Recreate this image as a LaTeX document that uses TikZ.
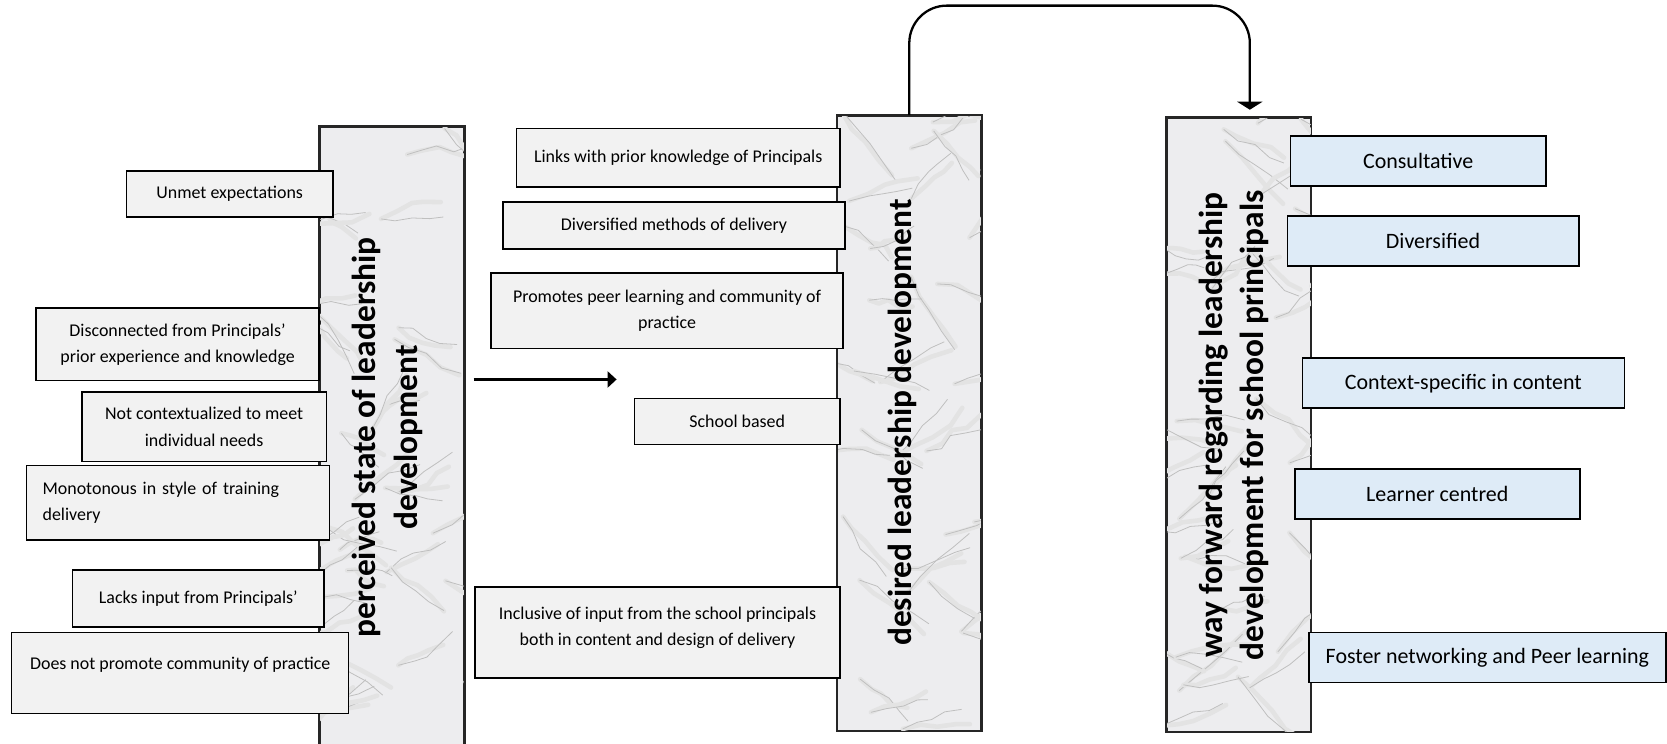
\documentclass[tikz,border=0pt]{standalone}
\usepackage{fontspec}
\setmainfont{Carlito}
\usetikzlibrary{arrows.meta}

\definecolor{boxgrey}{HTML}{F2F2F2}
\definecolor{boxblue}{HTML}{DEEBF7}
\definecolor{marble}{HTML}{EDEDEF}

\tikzset{
  pillar/.style={draw=black!85, line width=1pt, fill=marble, inner sep=0pt, anchor=south west},
  pillartext/.style={rotate=90, font=\bfseries\fontsize{19}{23.5}\selectfont, align=center},
  greybox/.style={draw, line width=0.9pt, fill=boxgrey, align=center, inner sep=2pt,
    font=\fontsize{10.2}{15}\selectfont},
  bluebox/.style={greybox, fill=boxblue, minimum height=1cm, font=\fontsize{12.5}{15}\selectfont},
  softvein/.style={gray!22, line width=2.6pt, line join=round, line cap=round},
  vein/.style={gray!50, line width=0.45pt, line join=round},
  flow/.style={line width=1.3pt, -{Triangle[length=0.18cm,width=0.32cm]}},
}

% marble look of the columns
\newcommand{\veins}[1]{%
  \begin{scope}
    \clip (#1.south west) rectangle (#1.north east);
    \foreach \k in {1,...,34}{
      \pgfmathsetmacro{\vx}{3.4*rnd-0.4}
      \pgfmathsetmacro{\vy}{12.8*rnd-0.3}
      \pgfmathsetmacro{\dx}{0.2+0.15*rnd}
      \pgfmathsetmacro{\dy}{0.32*rand}
      \foreach \st in {softvein,vein}
        \draw[\st] (#1.south west) ++(\vx,\vy) -- ++({\dx+0.08*rand},{\dy+0.12*rand})
          -- ++({\dx+0.08*rand},{\dy+0.12*rand}) -- ++({\dx+0.08*rand},{\dy+0.12*rand})
          -- ++({\dx+0.08*rand},{\dy+0.12*rand});
    }
  \end{scope}}

\begin{document}
\begin{tikzpicture}
  \useasboundingbox (0,0) rectangle (33.34,14.862);
  \pgfmathsetseed{42}

  % the three columns
  \node[pillar, minimum width=2.89cm, minimum height=12.36cm] (perc) at (6.379,-0.05) {};
  \node[pillar, minimum width=2.87cm, minimum height=12.29cm] (desired) at (16.733,0.234) {};
  \node[pillar, minimum width=2.87cm, minimum height=12.27cm] (way) at (23.324,0.212) {};
  \veins{perc}
  \veins{desired}
  \veins{way}
  \foreach \col in {perc,desired,way}
    \draw[black!85, line width=1pt] (\col.south west) rectangle (\col.north east);
  \node[pillartext] (perclabel) at (7.75,6.12) {perceived state of leadership\\ development};
  \node[pillartext] (desiredlabel) at (18.05,6.41) {desired leadership development};
  \node[pillartext] (waylabel) at (24.68,6.36) {way forward regarding leadership\\ development for school principals};

  % perceived state
  \node[greybox, minimum width=4.125cm, minimum height=0.914cm] (unmet) at (4.593,10.982) {Unmet expectations};
  \node[greybox, minimum width=5.656cm, minimum height=1.446cm] (disconnected) at (3.551,7.973)
    {Disconnected from Principals'\\ prior experience and knowledge};
  \node[greybox, minimum width=4.890cm, minimum height=1.382cm] (notcontext) at (4.082,6.325)
    {Not contextualized to meet\\ individual needs};
  \node[greybox, align=left, text width=5.42cm, inner xsep=0.32cm, minimum height=1.488cm] (monotonous) at (3.562,4.805)
    {Monotonous in style of training\\ delivery};
  \node[greybox, minimum width=5.039cm, minimum height=1.148cm] (lacksinput) at (3.966,2.892) {Lacks input from Principals'};
  \node[greybox, minimum width=6.740cm, minimum height=1.616cm, text depth=0.38cm] (nocommunity) at (3.604,1.403)
    {Does not promote community of practice};

  % desired
  \node[greybox, minimum width=6.464cm, minimum height=1.169cm] (links) at (13.565,11.705) {Links with prior knowledge of Principals};
  \node[greybox, minimum width=6.846cm, minimum height=0.935cm] (diversemethods) at (13.480,10.355) {Diversified methods of delivery};
  \node[greybox, minimum width=7.038cm, minimum height=1.510cm] (peerlearning) at (13.342,8.643)
    {Promotes peer learning and community of\\ practice};
  \node[greybox, minimum width=4.104cm, minimum height=0.914cm] (schoolbased) at (14.745,6.432) {School based};
  \node[greybox, minimum width=7.293cm, minimum height=1.828cm, text depth=0.25cm] (inclusive) at (13.151,2.211)
    {Inclusive of input from the school principals\\ both in content and design of delivery};

  % way forward
  \foreach \nm/\x/\y/\w/\txt in {consultative/28.364/11.641/5.103/Consultative,
      diversified/28.661/10.046/5.826/Diversified,
      contextspecific/29.267/7.197/6.442/Context-specific in content,
      learnercentred/28.746/4.976/5.698/Learner centred,
      networking/29.747/1.712/7.146/Foster networking and Peer learning}
    \node[bluebox, minimum width=\w cm] (\nm) at (\x,\y) {\txt};

  % arrows
  \coordinate (arrowend) at (12.332,7.272);
  \draw[flow, shorten <=0.17cm] (perc.east |- arrowend) -- (arrowend);
  \draw[flow, -{Triangle[length=0.16cm,width=0.5cm]}, rounded corners=0.75cm]
    (desired.north) -- ++(0,2.19) -| ([xshift=0.22cm,yshift=0.15cm]way.north);
\end{tikzpicture}
\end{document}
